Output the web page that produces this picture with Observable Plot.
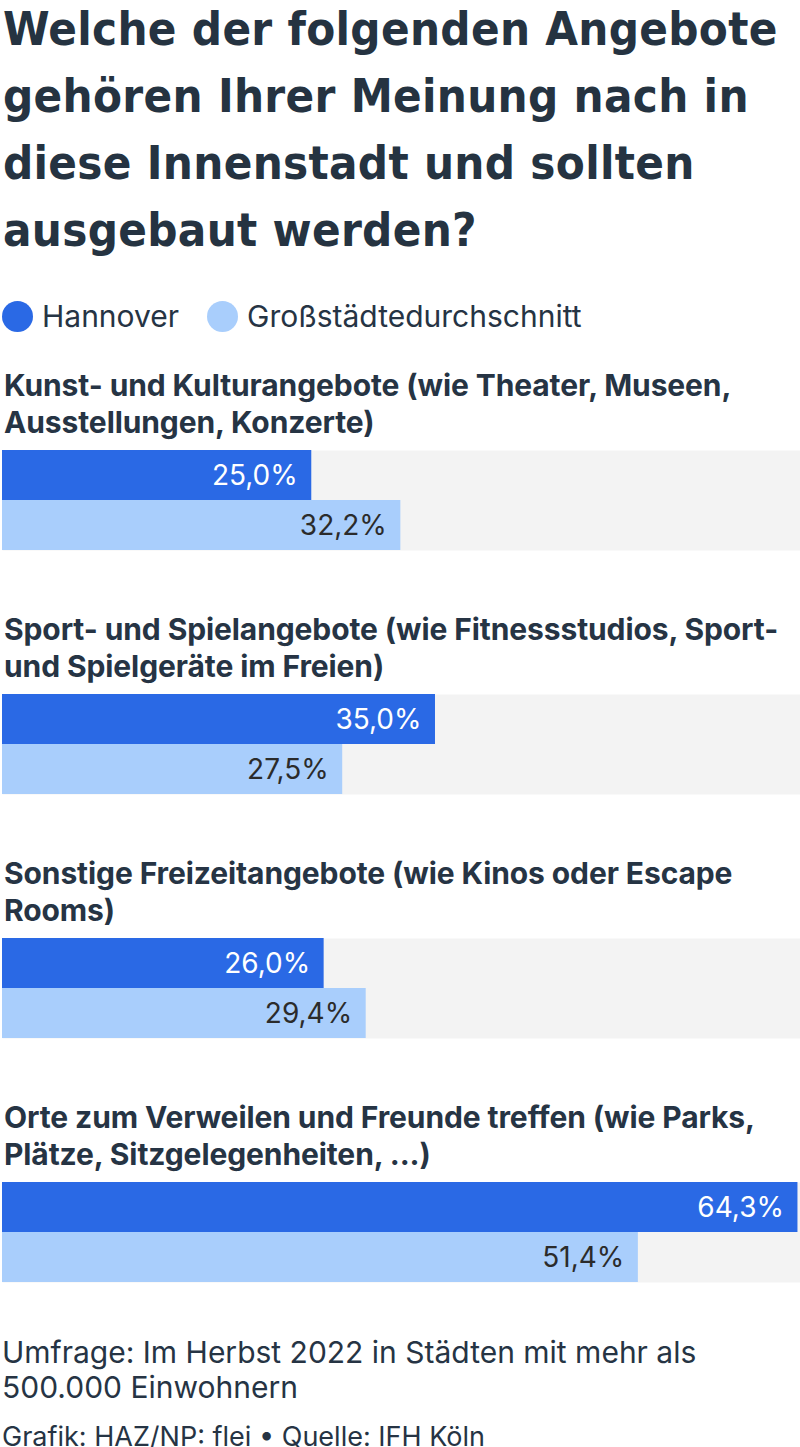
<!DOCTYPE html>
<html><head><meta charset="utf-8">
<script src="https://cdn.jsdelivr.net/npm/d3@7"></script>
<script src="https://cdn.jsdelivr.net/npm/@observablehq/plot@0.6"></script>
<style>
html,body{margin:0;padding:0;background:#fff;}
body{width:800px;font-family:Inter,"Noto Sans",sans-serif;color:#263444;}
h1{font-family:"DejaVu Sans Condensed","DejaVu Sans",sans-serif;font-stretch:condensed;font-weight:700;font-size:47px;line-height:67px;margin:-5px 0 0 0;padding:0 0 0 3px;color:#253341;letter-spacing:0.3px;}
.legend{display:flex;align-items:center;height:40px;margin-top:33px;font-size:30px;}
.legend .sw{display:inline-block;width:31px;height:31px;border-radius:50%;margin:0 9px 0 2px;}
.legend .item{display:flex;align-items:center;margin-right:26px;}
.glabel{font-weight:700;font-size:30px;line-height:37px;padding-left:4px;margin-bottom:9px;letter-spacing:-0.1px;}
.chart svg{display:block;}
.foot{font-size:30px;line-height:35px;padding-left:2px;margin-top:53px;}
.foot2{font-size:27px;line-height:35px;padding-left:2px;margin-top:14px;}
</style></head>
<body>
<h1 id="title"></h1>
<div class="legend" id="legend"></div>
<div id="groups"></div>
<div class="foot" id="note"></div>
<div class="foot2" id="source"></div>
<script>
const title = "Welche der folgenden Angebote gehören Ihrer Meinung nach in diese Innenstadt und sollten ausgebaut werden?";
const categories = [
  "Kunst- und Kulturangebote (wie Theater, Museen, Ausstellungen, Konzerte)",
  "Sport- und Spielangebote (wie Fitnessstudios, Sport- und Spielgeräte im Freien)",
  "Sonstige Freizeitangebote (wie Kinos oder Escape Rooms)",
  "Orte zum Verweilen und Freunde treffen (wie Parks, Plätze, Sitzgelegenheiten, ...)"
];
const series = ["Hannover", "Großstädtedurchschnitt"];
const hannover = [25.0, 35.0, 26.0, 64.3];
const grossstadt = [32.2, 27.5, 29.4, 51.4];
const colors = ["#2a69e5", "#a9cefc"];
const labelColors = ["#ffffff", "#2b2b2b"];
const note = "Umfrage: Im Herbst 2022 in Städten mit mehr als 500.000 Einwohnern";
const source = "Grafik: HAZ/NP: flei • Quelle: IFH Köln";

document.getElementById("title").textContent = title;
document.getElementById("note").textContent = note;
document.getElementById("source").textContent = source;

const lg = document.getElementById("legend");
series.forEach((s, i) => {
  const it = document.createElement("span"); it.className = "item";
  const sw = document.createElement("span"); sw.className = "sw"; sw.style.background = colors[i];
  it.appendChild(sw); it.appendChild(document.createTextNode(s));
  lg.appendChild(it);
});

const fmt = v => v.toFixed(1).replace(".", ",") + "%";
const maxV = d3.max([...hannover, ...grossstadt]);
const groupsEl = document.getElementById("groups");
categories.forEach((cat, gi) => {
  const g = document.createElement("div"); g.className = "group";
  g.style.marginTop = gi === 0 ? "31px" : "61px";
  const lab = document.createElement("div"); lab.className = "glabel"; lab.textContent = cat;
  g.appendChild(lab);
  const data = [
    {series: series[0], value: hannover[gi]},
    {series: series[1], value: grossstadt[gi]}
  ];
  const chart = Plot.plot({
    width: 800, height: 100,
    marginLeft: 2, marginRight: 0, marginTop: 0, marginBottom: 0,
    x: {domain: [0, maxV * 1.0032], axis: null},
    y: {domain: series, axis: null, padding: 0},
    color: {domain: series, range: colors},
    style: {background: "transparent", overflow: "visible"},
    marks: [
      Plot.frame({fill: "#f3f3f3", stroke: null}),
      Plot.barX(data, {x: "value", y: "series", fill: "series"}),
      Plot.text(data, {x: "value", y: "series", text: d => fmt(d.value), textAnchor: "end", dx: -14, dy: 1,
        fill: d => labelColors[series.indexOf(d.series)], fontSize: 28, fontFamily: "Inter, sans-serif"})
    ]
  });
  const c = document.createElement("div"); c.className = "chart"; c.appendChild(chart);
  g.appendChild(c);
  groupsEl.appendChild(g);
});
</script>
</body></html>
